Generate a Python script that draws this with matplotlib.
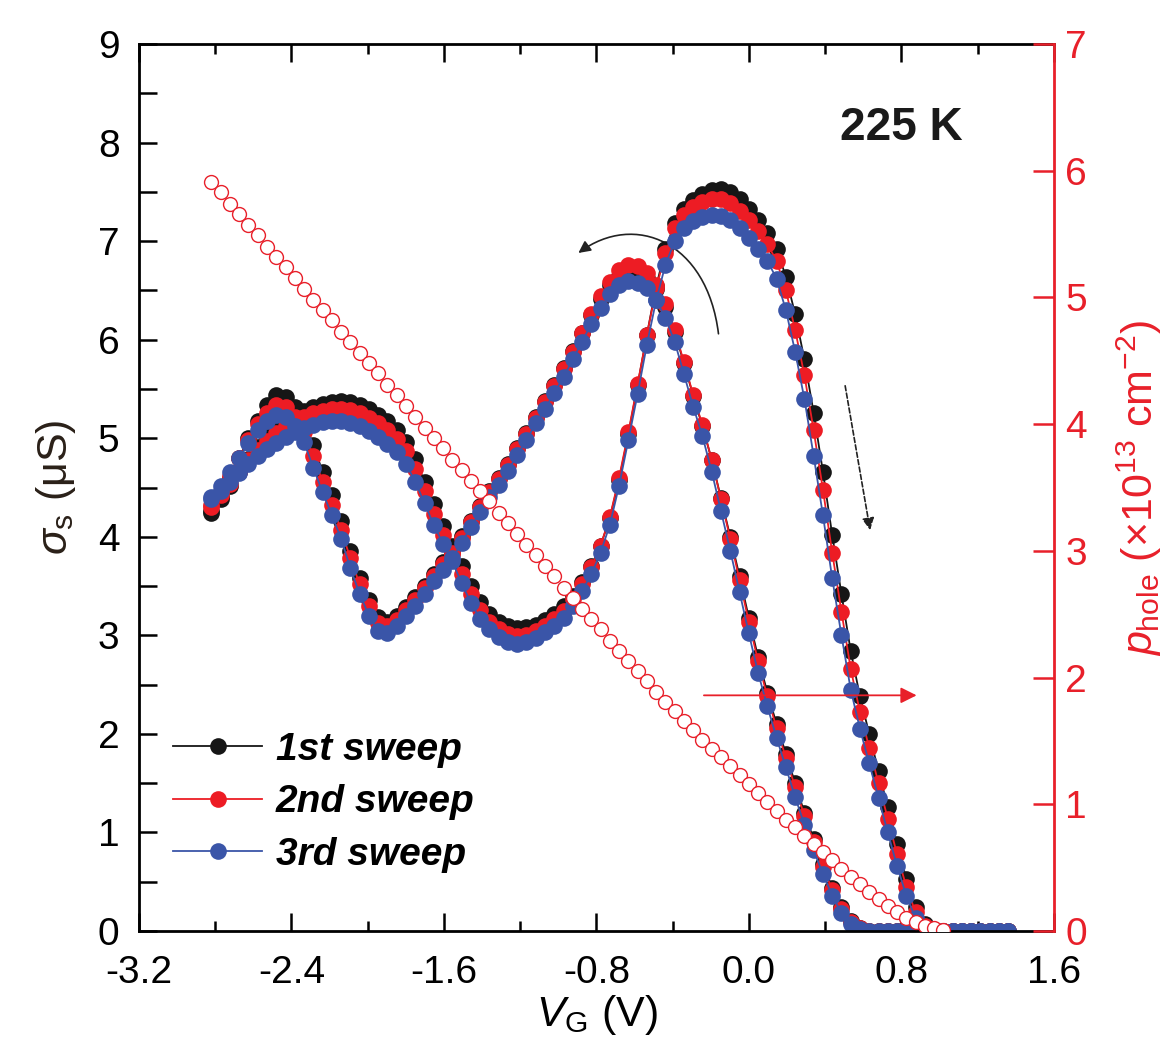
import numpy as np
import matplotlib.pyplot as plt
from matplotlib.path import Path
from matplotlib.patches import FancyArrowPatch
from matplotlib.ticker import MultipleLocator

plt.rcParams['font.family'] = ['Liberation Sans', 'DejaVu Sans']
plt.rcParams['mathtext.fontset'] = 'custom'
plt.rcParams['mathtext.rm'] = 'Liberation Sans'
plt.rcParams['mathtext.it'] = 'Liberation Sans:italic'
plt.rcParams['mathtext.bf'] = 'Liberation Sans:bold'
plt.rcParams['axes.unicode_minus'] = False

# gate voltage steps of the sweep (V)
vg = np.linspace(-2.82, 1.36, 87)

# sigma_s (uS): "down" = sweep towards negative V_G, "up" = sweep back,
# both listed in order of increasing V_G
s1_down = [4.24, 4.40, 4.60, 4.80, 5.00, 5.18, 5.34, 5.44, 5.42, 5.32,
           5.16, 4.93, 4.66, 4.42, 4.16, 3.86, 3.58, 3.36, 3.19, 3.14,
           3.20, 3.29, 3.39, 3.50, 3.62, 3.74, 3.86, 4.01, 4.16, 4.31,
           4.46, 4.60, 4.74, 4.90, 5.05, 5.22, 5.38, 5.54, 5.71, 5.89,
           6.07, 6.25, 6.41, 6.55, 6.65, 6.70, 6.69, 6.63, 6.51, 6.33,
           6.08, 5.76, 5.43, 5.12, 4.78, 4.39, 4.00, 3.60, 3.18, 2.78,
           2.42, 2.10, 1.80, 1.50, 1.20, 0.93, 0.68, 0.44, 0.24, 0.10,
           0.03] + [0.0] * 16
s1_up = [4.26, 4.38, 4.52, 4.66, 4.79, 4.91, 5.01, 5.10, 5.17, 5.23,
         5.28, 5.32, 5.35, 5.37, 5.38, 5.37, 5.34, 5.30, 5.24, 5.17,
         5.08, 4.96, 4.79, 4.56, 4.33, 4.11, 3.91, 3.70, 3.50, 3.34,
         3.22, 3.14, 3.09, 3.07, 3.08, 3.11, 3.16, 3.22, 3.30, 3.40,
         3.54, 3.70, 3.91, 4.19, 4.58, 5.04, 5.54, 6.05, 6.54, 6.92,
         7.18, 7.33, 7.42, 7.48, 7.52, 7.53, 7.50, 7.43, 7.33, 7.21,
         7.08, 6.92, 6.64, 6.26, 5.80, 5.26, 4.66, 4.02, 3.42, 2.84,
         2.38, 2.00, 1.62, 1.26, 0.88, 0.53, 0.24, 0.07, 0.01] + [0.0] * 8

s2_down = [4.30, 4.45, 4.62, 4.80, 4.98, 5.14, 5.26, 5.34, 5.32, 5.22,
           5.06, 4.82, 4.56, 4.32, 4.07, 3.78, 3.52, 3.30, 3.13, 3.09,
           3.16, 3.26, 3.36, 3.48, 3.60, 3.72, 3.84, 3.99, 4.15, 4.30,
           4.45, 4.59, 4.73, 4.89, 5.04, 5.21, 5.37, 5.53, 5.70, 5.88,
           6.07, 6.26, 6.44, 6.59, 6.71, 6.76, 6.75, 6.68, 6.55, 6.36,
           6.10, 5.77, 5.44, 5.13, 4.78, 4.38, 3.98, 3.56, 3.14, 2.74,
           2.38, 2.06, 1.76, 1.46, 1.17, 0.90, 0.65, 0.42, 0.22, 0.09,
           0.03] + [0.0] * 16
s2_up = [4.32, 4.42, 4.54, 4.66, 4.78, 4.88, 4.97, 5.05, 5.12, 5.18,
         5.22, 5.26, 5.28, 5.30, 5.30, 5.29, 5.26, 5.21, 5.15, 5.08,
         4.99, 4.87, 4.69, 4.46, 4.23, 4.02, 3.83, 3.62, 3.42, 3.26,
         3.14, 3.06, 3.01, 2.99, 3.00, 3.04, 3.10, 3.17, 3.25, 3.37,
         3.52, 3.69, 3.91, 4.20, 4.60, 5.06, 5.55, 6.05, 6.52, 6.88,
         7.13, 7.27, 7.35, 7.40, 7.43, 7.43, 7.39, 7.31, 7.21, 7.10,
         6.97, 6.80, 6.50, 6.10, 5.64, 5.08, 4.48, 3.84, 3.24, 2.66,
         2.22, 1.86, 1.50, 1.14, 0.78, 0.45, 0.19, 0.05] + [0.0] * 9

s3_down = [4.40, 4.52, 4.66, 4.80, 4.95, 5.08, 5.18, 5.24, 5.22, 5.12,
           4.96, 4.70, 4.45, 4.22, 3.98, 3.68, 3.42, 3.20, 3.04, 3.02,
           3.10, 3.20, 3.30, 3.42, 3.55, 3.66, 3.78, 3.94, 4.10, 4.25,
           4.40, 4.53, 4.67, 4.83, 4.98, 5.15, 5.30, 5.46, 5.62, 5.80,
           5.98, 6.16, 6.32, 6.46, 6.56, 6.60, 6.58, 6.52, 6.40, 6.22,
           5.98, 5.65, 5.32, 5.02, 4.66, 4.26, 3.86, 3.44, 3.02, 2.62,
           2.28, 1.96, 1.66, 1.36, 1.08, 0.82, 0.58, 0.36, 0.18, 0.07,
           0.02] + [0.0] * 16
s3_up = [4.38, 4.46, 4.56, 4.65, 4.74, 4.82, 4.89, 4.95, 5.01, 5.06,
         5.10, 5.13, 5.16, 5.17, 5.17, 5.15, 5.12, 5.07, 5.01, 4.94,
         4.86, 4.74, 4.56, 4.34, 4.12, 3.93, 3.75, 3.53, 3.33, 3.17,
         3.06, 2.98, 2.93, 2.91, 2.93, 2.97, 3.03, 3.10, 3.18, 3.30,
         3.45, 3.62, 3.84, 4.12, 4.52, 4.98, 5.45, 5.95, 6.40, 6.76,
         7.00, 7.13, 7.20, 7.25, 7.27, 7.26, 7.21, 7.13, 7.03, 6.92,
         6.80, 6.62, 6.30, 5.88, 5.40, 4.82, 4.22, 3.58, 3.00, 2.45,
         2.05, 1.70, 1.35, 1.00, 0.66, 0.36, 0.13, 0.03] + [0.0] * 9

# hole density (1e13 cm^-2) on the first 80 gate steps
p_hole = [5.91, 5.83, 5.74, 5.66, 5.57, 5.49, 5.40, 5.32, 5.24, 5.15,
          5.07, 4.98, 4.90, 4.82, 4.73, 4.65, 4.56, 4.48, 4.40, 4.31,
          4.23, 4.14, 4.06, 3.97, 3.89, 3.81, 3.72, 3.64, 3.55, 3.47,
          3.39, 3.30, 3.22, 3.13, 3.05, 2.97, 2.88, 2.80, 2.71, 2.63,
          2.54, 2.46, 2.38, 2.29, 2.21, 2.13, 2.05, 1.97, 1.89, 1.81,
          1.74, 1.66, 1.59, 1.51, 1.44, 1.37, 1.30, 1.23, 1.16, 1.09,
          1.02, 0.95, 0.88, 0.82, 0.75, 0.69, 0.62, 0.56, 0.49, 0.43,
          0.37, 0.31, 0.25, 0.20, 0.15, 0.10, 0.07, 0.04, 0.02, 0.01]

xticks = [-3.2, -2.4, -1.6, -0.8, 0.0, 0.8, 1.6]
xticklabels = ['-3.2', '-2.4', '-1.6', '-0.8', '0.0', '0.8', '1.6']

sweeps = [('1st sweep', s1_down, s1_up, '#161616'),
          ('2nd sweep', s2_down, s2_up, '#ed1c24'),
          ('3rd sweep', s3_down, s3_up, '#3a55a8')]
red = '#e8202a'
fs = 28     # tick labels
lfs = 31    # axis titles

fig = plt.figure(figsize=(11.75, 10.61), dpi=100)
ax = fig.add_axes([0.1183, 0.1225, 0.7787, 0.836])

for label, down, up, col in sweeps:
    x = np.concatenate([vg[::-1], vg])
    y = np.concatenate([np.array(down)[::-1], np.array(up)])
    ax.plot(x, y, '-o', color=col, lw=1.3, ms=12, mew=0, label=label)

ax.set_xlim(-3.2, 1.6)
ax.set_ylim(0, 9)
ax.set_xticks(xticks)
ax.set_xticklabels(xticklabels)
ax.set_yticks(range(10))
ax.xaxis.set_minor_locator(MultipleLocator(0.4))
ax.yaxis.set_minor_locator(MultipleLocator(0.5))
ax.tick_params(which='both', direction='in', width=1.8, labelsize=fs, top=True)
ax.tick_params(which='major', length=13)
ax.tick_params(axis='x', which='minor', length=7)
ax.tick_params(axis='y', which='minor', length=13)
ax.tick_params(axis='x', pad=17)
ax.tick_params(axis='y', pad=14)
for s in ['left', 'bottom', 'top']:
    ax.spines[s].set_linewidth(2)
ax.spines['right'].set_visible(False)
ax.set_xlabel(r'$V_{\rm G}$ (V)', fontsize=lfs, labelpad=2)
ax.set_ylabel(r'$\sigma_{\rm s}$ (μS)', fontsize=lfs, labelpad=14, color='#2a2018')

ax.legend(loc='center left', bbox_to_anchor=(0.037, 0.145), frameon=False,
          borderaxespad=0, borderpad=0, handlelength=2.3, handletextpad=0.35,
          labelspacing=0.42,
          prop=dict(family='Liberation Sans', style='italic', weight='bold', size=28))

ax.text(0.833, 0.905, '225 K', transform=ax.transAxes, ha='center', va='center',
        fontsize=33, fontweight='bold', color='#1a1a1a')

# sweep direction arrows
arc = Path([(-0.16, 6.06), (-0.22, 7.0), (-0.60, 7.30), (-0.895, 6.88)],
           [Path.MOVETO, Path.CURVE4, Path.CURVE4, Path.CURVE4])
ax.add_patch(FancyArrowPatch(path=arc, arrowstyle='-|>', mutation_scale=18,
                             color='#222222', lw=1.2, transform=ax.transData))
ax.annotate('', xy=(0.638, 4.04), xytext=(0.502, 5.56),
            arrowprops=dict(arrowstyle='-|>', mutation_scale=18, color='#222222',
                            lw=1.2, linestyle=(0, (3, 1.5))))

ax2 = ax.twinx()
ax2.plot(vg[:80], p_hole, 'o', ms=10, mfc='white', mec=red, mew=1.0)
ax2.set_ylim(0, 7)
ax2.set_yticks(range(8))
ax2.tick_params(direction='in', length=15, width=1.8, colors=red, labelsize=fs, pad=8)
ax2.spines['right'].set_color(red)
ax2.spines['right'].set_linewidth(2)
for s in ['left', 'bottom', 'top']:
    ax2.spines[s].set_visible(False)
ax2.set_ylabel(r'$p_{\rm hole}$ ($\times$10$^{13}$ cm$^{-2}$)', fontsize=lfs, color=red,
               labelpad=20)
ax2.annotate('', xy=(0.894, 1.86), xytext=(-0.251, 1.86),
             arrowprops=dict(arrowstyle='-|>', mutation_scale=24, color=red, lw=1.3))

fig.savefig('out.png', dpi=100)
